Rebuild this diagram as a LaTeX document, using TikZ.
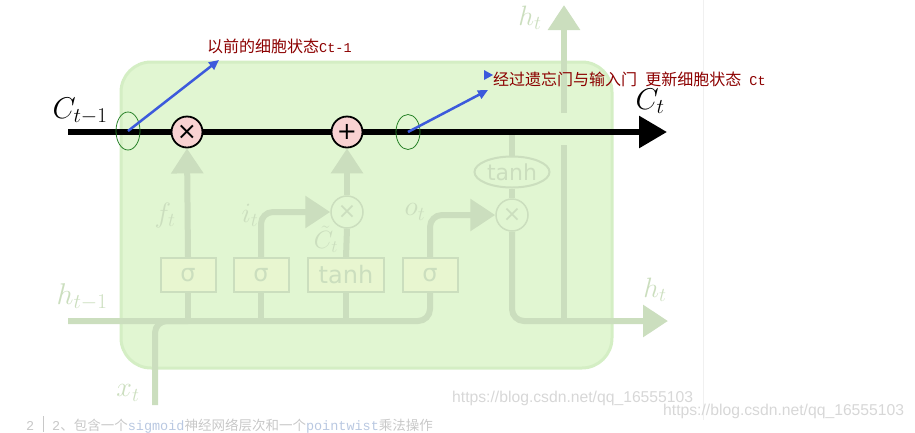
\RequirePackage{fix-cm}
\documentclass[tikz,border=0pt]{standalone}
\usepackage{fontspec}
\newfontfamily\cjk{Noto Sans CJK SC}
\newfontfamily\codefont{Liberation Mono}
\newfontfamily\symfont{DejaVu Sans}
\newfontfamily\webfont{Liberation Sans}
\newcommand\notecode{\codefont\fontsize{13.5pt}{13.5pt}\selectfont}
\usetikzlibrary{arrows.meta, shapes.geometric}

\definecolor{cellgreen}{RGB}{225,246,210}
\definecolor{cellrim}{RGB}{212,238,196}
\definecolor{fade}{RGB}{203,222,190}
\definecolor{fadebox}{RGB}{232,246,208}
\definecolor{pinkop}{RGB}{249,210,210}
\definecolor{ringgreen}{RGB}{40,130,40}
\definecolor{notered}{RGB}{140,0,0}
\definecolor{noteblue}{RGB}{60,90,220}
\definecolor{wmgrey}{RGB}{215,215,215}
\definecolor{codegrey}{RGB}{200,200,200}
\definecolor{codeblue}{RGB}{185,200,225}
\definecolor{pagerule}{RGB}{240,240,240}

\begin{document}
\begin{tikzpicture}[x=1pt, y=-1pt,
        fadeline/.style={draw=fade, line width=6pt},
        fadearrow/.style={fadeline, -{Triangle[length=25pt, width=31pt]}},
        gatebox/.style={draw=fade, line width=2pt, fill=fadebox, text=fade, minimum width=55pt, minimum height=34pt, inner sep=0pt, font=\symfont\fontsize{24pt}{24pt}\selectfont},
        fadeop/.style={circle, draw=fade, line width=1.5pt, fill=cellgreen, text=fade, minimum size=32pt, inner sep=0pt, font=\symfont\fontsize{22pt}{22pt}\selectfont},
        op/.style={circle, draw=black, line width=1.8pt, fill=pinkop, minimum size=31pt, inner sep=0pt, font=\symfont\fontsize{24pt}{24pt}\selectfont},
        fadelabel/.style={text=fade, inner sep=0pt, font=\fontsize{28pt}{28pt}\selectfont},
        statelabel/.style={inner sep=0pt, font=\fontsize{30pt}{30pt}\selectfont},
        ring/.style={ellipse, draw=ringgreen, line width=0.8pt, minimum width=24pt, inner sep=0pt},
        note/.style={text=notered, inner sep=0pt, anchor=west, font=\cjk\fontsize{16pt}{16pt}\selectfont},
        notearrow/.style={draw=noteblue, line width=2.5pt, -{Triangle[length=10pt, width=9pt]}},
        wm/.style={text=wmgrey, inner sep=0pt, anchor=base west, font=\webfont\fontsize{15.7pt}{15.7pt}\selectfont}]

            % the frame
            \useasboundingbox (0,0) rectangle (915,432);
            \path[clip] (0,0) rectangle (915,432);
            \draw[pagerule, line width=1pt] (703,0) -- (703,420);

            % the cell
            \draw[fill=cellgreen, draw=cellrim, line width=3pt, rounded corners=30pt] (121,62) rectangle (612,368);

            % gates
            \foreach \name/\x in {sigf/188, sigi/261, sigo/430} {
                \node[gatebox] (\name) at (\x,275) {σ};
            }
            \node[gatebox, minimum width=76pt] (tanhc) at (346,275) {tanh};
            \node[fadeop] (muli) at (347,212) {×};
            \node[fadeop] (mulo) at (512,215) {×};
            \node[ellipse, draw=fade, line width=2pt, fill=cellgreen, text=fade, minimum width=75pt, minimum height=31pt, inner sep=0pt, font=\symfont\fontsize{22pt}{22pt}\selectfont] (tanhe) at (512,172) {tanh};

            % wires
            \coordinate (cin) at (68,132);
            \coordinate (cout) at (667,132);
            \coordinate (hin) at (68,321);
            \coordinate (xin) at (155,405);
            \coordinate (hout) at (668,321);
            \coordinate (hsplit) at (564,321);
            \coordinate (hgapbot) at (564,145);
            \coordinate (hgaptop) at (564,113);
            \coordinate (htop) at (564,5);
            \draw[fadeline, rounded corners=12pt] (hin) -| (sigo.south);
            \draw[fadeline, rounded corners=12pt] (xin) |- (sigf.south |- hin);
            \foreach \name in {sigf, sigi, tanhc} {
                \draw[fadeline] (\name.south) -- (\name.south |- hin);
            }
            \draw[fadearrow, rounded corners=12pt] (sigi.north) |- (muli.west);
            \draw[fadeline] (tanhc.north) -- (muli.south);
            \draw[fadearrow, rounded corners=12pt] (sigo.north) |- (mulo.west);
            \draw[fadeline] (tanhe.south) -- (mulo.north);
            \draw[fadeline] (tanhe.north) -- (tanhe.north |- cin);
            \draw[fadearrow, rounded corners=12pt] (mulo.south) |- (hout);
            \draw[fadeline] (hsplit) -- (hgapbot);
            \draw[fadearrow] (hgaptop) -- (htop);

            % cell state
            \draw[line width=6pt, -{Triangle[length=28pt, width=31pt]}] (cin) -- (cout);
            \node[op] (mulf) at (187,132) {×};
            \node[op] (addc) at (347,132) {+};
            \draw[fadearrow] (sigf.north) -- (mulf.south);
            \draw[fadearrow] (muli.north) -- (addc.south);

            % labels
            \node[statelabel] (cprev) at (80,111) {$C_{t-1}$};
            \node[statelabel] (cnext) at (650,101) {$C_t$};
            \node[fadelabel, font=\fontsize{30pt}{30pt}\selectfont] (hprev) at (82,297) {$h_{t-1}$};
            \node[fadelabel] (xlbl) at (128,393) {$x_t$};
            \node[fadelabel] (flbl) at (165,215) {$f_t$};
            \node[fadelabel] (ilbl) at (250,215) {$i_t$};
            \node[fadelabel, font=\fontsize{25pt}{25pt}\selectfont] (ctlbl) at (326,239) {$\tilde{C}_t$};
            \node[fadelabel] (olbl) at (415,212) {$o_t$};
            \node[fadelabel] (htoplbl) at (530,18) {$h_t$};
            \node[fadelabel] (houtlbl) at (655,290) {$h_t$};

            % notes
            \node[ring, minimum height=38pt] (oldc) at (128,131) {};
            \node[ring, minimum height=35pt] (newc) at (408,132) {};
            \node[note] (oldlbl) at (207,46) {以前的细胞状态{\notecode Ct-1}};
            \node[note] (newlbl) at (493,79) {经过遗忘门与输入门{\notecode\ }更新细胞状态{\notecode\ Ct}};
            \coordinate (tip1) at (219,60);
            \coordinate (tip2) at (488,90);
            \draw[notearrow] (oldc.center) -- (tip1);
            \draw[notearrow] (newc.center) -- (tip2);
            \fill[noteblue] (484,70) -- (493,75) -- (484,80) -- cycle;

            % watermark
            \node[wm] (wm1) at (452,402) {https://blog.csdn.net/qq\_16555103};
            \node[wm] (wm2) at (663,415) {https://blog.csdn.net/qq\_16555103};

            % next line of the page
            \node[anchor=west, inner sep=0pt, text=codegrey, font=\codefont\fontsize{13.5pt}{13.5pt}\selectfont] (lineno) at (26,426) {2};
            \draw[codegrey, line width=0.8pt] (43,416) -- (43,432);
            \node[anchor=west, inner sep=0pt, text=codegrey, font=\cjk\fontsize{13.5pt}{13.5pt}\selectfont] (stepline) at (52,426) {{\codefont 2}、包含一个{\codefont\color{codeblue}sigmoid}神经网络层次和一个{\codefont\color{codeblue}pointwist}乘法操作};
        \end{tikzpicture}
\end{document}
